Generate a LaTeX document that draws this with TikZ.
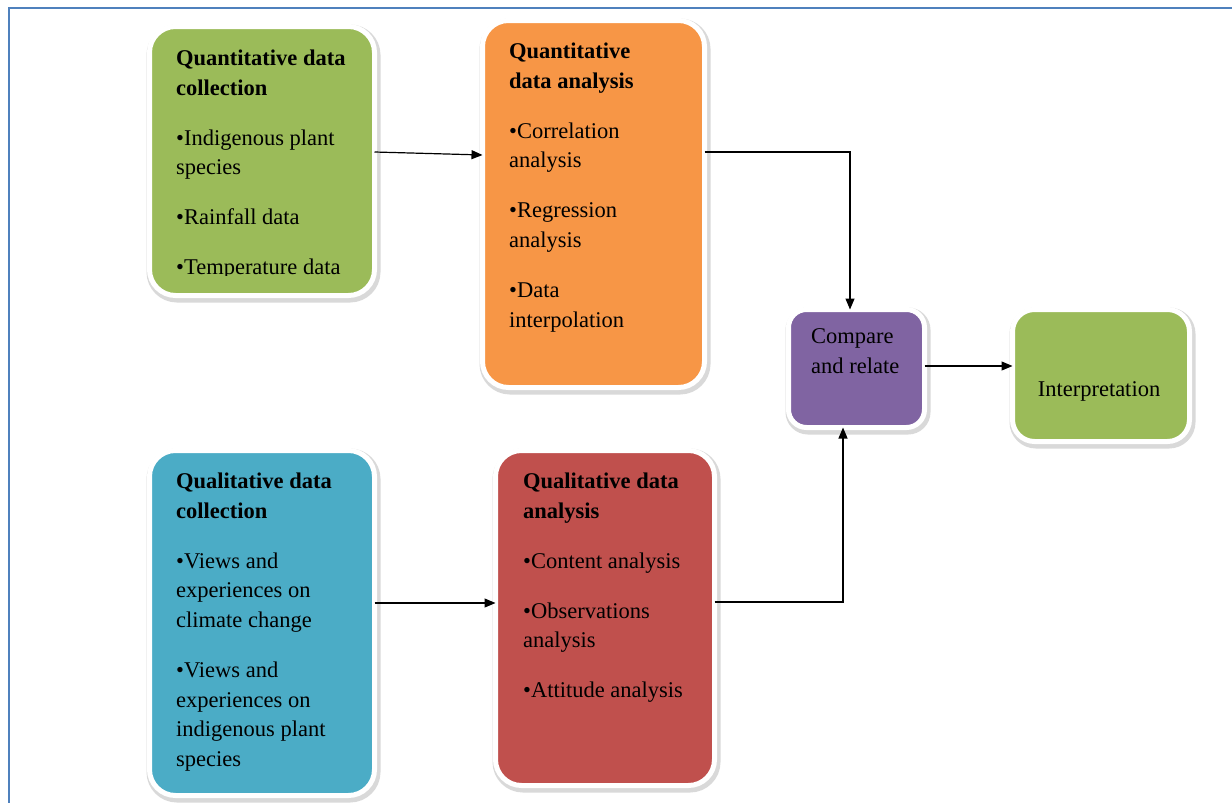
\documentclass[tikz,border=0pt]{standalone}
\usepackage{fontspec}
\setmainfont{Liberation Serif}
\usetikzlibrary{arrows.meta}
\definecolor{boxgreen}{HTML}{9BBB59}
\definecolor{boxorange}{HTML}{F79646}
\definecolor{boxpurple}{HTML}{8064A2}
\definecolor{boxblue}{HTML}{4BACC6}
\definecolor{boxred}{HTML}{C0504D}
\definecolor{frameblue}{HTML}{4F81BD}
\tikzset{
  box/.style={rectangle, rounded corners=26pt, fill=#1, draw=white, line width=5pt,
    outer sep=0pt, inner sep=0pt,
    preaction={draw=black!15, line width=9pt, transform canvas={shift={(1.5pt,-2.5pt)}}}},
  txt/.style={anchor=north west, inner sep=0pt, align=left,
    font=\fontsize{22.5}{29.7}\selectfont},
  arr/.style={line width=1.2pt, -{Triangle[length=11pt,width=9pt]}},
}
\begin{document}
\begin{tikzpicture}[x=1pt,y=-1pt]
\useasboundingbox (0,0) rectangle (1232,803);
\fill[white] (0,0) rectangle (1232,803);
% page frame
\draw[frameblue, line width=2pt] (9,830) -- (9,8) -- (1260,8);

% boxes
\node[box=boxgreen, minimum width=225pt, minimum height=269pt] (A) at (262,161) {};
\node[box=boxorange, minimum width=222pt, minimum height=367pt] (B) at (593.5,204) {};
\node[box=boxpurple, rounded corners=18pt, minimum width=136pt, minimum height=118pt] (C) at (856.5,368.5) {};
\node[box=boxgreen, rounded corners=22pt, minimum width=177pt, minimum height=132pt] (D) at (1101,375.5) {};
\node[box=boxblue, minimum width=225pt, minimum height=345pt] (E) at (262,623) {};
\node[box=boxred, minimum width=219pt, minimum height=335pt] (F) at (605,618) {};

% box texts
\begin{scope}
\clip (150,20) rectangle (380,275);
\node[txt] (At) at (176,49.5) {\textbf{Quantitative data}\\ \textbf{collection}\\[20.3pt]
  •Indigenous plant\\ species\\[20.3pt] •Rainfall data\\[20.3pt] •Temperature data};
\end{scope}
\node[txt] (Bt) at (509,42.5) {\textbf{Quantitative}\\ \textbf{data analysis}\\[20.3pt]
  •Correlation\\ analysis\\[20.3pt] •Regression\\ analysis\\[20.3pt] •Data\\ interpolation};
\node[txt] (Ct) at (811,328.5) {Compare\\ and relate};
\node[anchor=base, inner sep=0pt, font=\fontsize{22.5}{29.7}\selectfont] (Dt) at (1099,396) {Interpretation};
\node[txt] (Et) at (176,472.5) {\textbf{Qualitative data}\\ \textbf{collection}\\[20.3pt]
  •Views and\\ experiences on\\ climate change\\[20.3pt] •Views and\\ experiences on\\ indigenous plant\\ species};
\node[txt] (Ft) at (523,472.5) {\textbf{Qualitative data}\\ \textbf{analysis}\\[20.3pt]
  •Content analysis\\[20.3pt] •Observations\\ analysis\\[20.3pt] •Attitude analysis};

% connectors
\draw[arr] ([yshift=9pt]A.east) -- ([yshift=49pt]B.west);
\draw[arr] ([yshift=52pt]B.east) -| ([xshift=-6.5pt]C.north);
\draw[arr] ([yshift=20pt]E.east) -- ([yshift=15pt]F.west);
\draw[arr] ([yshift=16pt]F.east) -| ([xshift=-13.5pt]C.south);
\draw[arr] ([yshift=2.5pt]C.east) -- ([yshift=2.5pt]C.east -| D.west);
\end{tikzpicture}
\end{document}
